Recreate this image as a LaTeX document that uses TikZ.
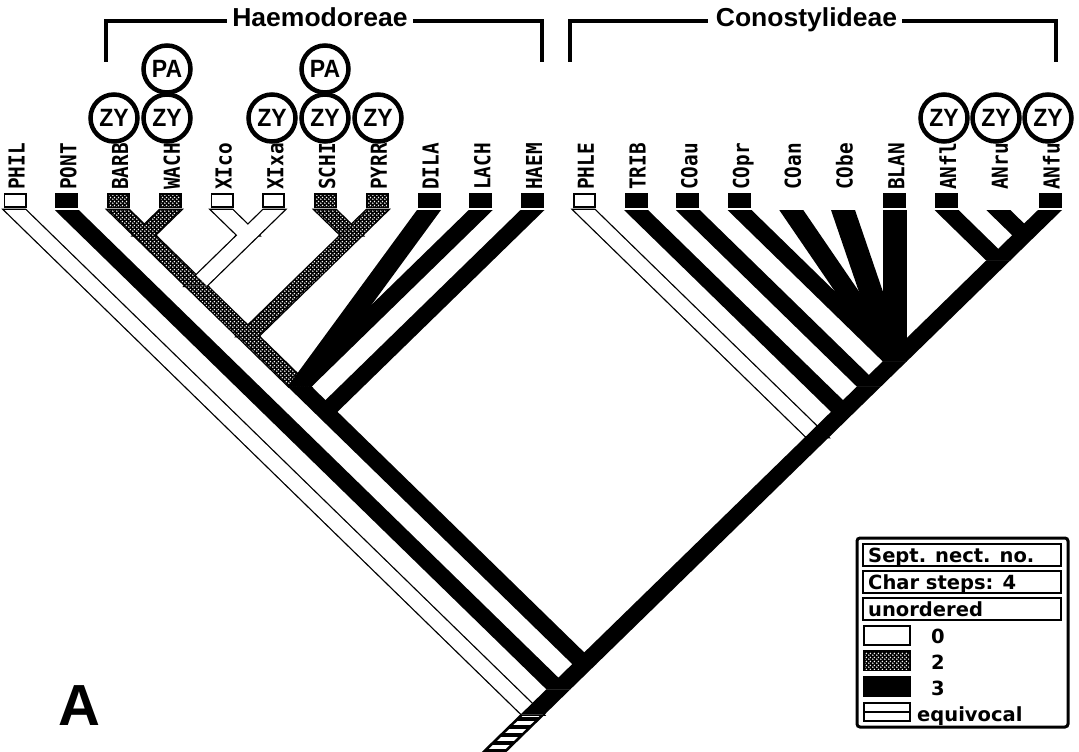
\documentclass[tikz,border=0pt]{standalone}
\usepackage{fontspec}
\setmainfont{Liberation Sans}
\newfontfamily\tipfont{DejaVu Sans Mono}
\newfontfamily\legfont{DejaVu Sans}
\usetikzlibrary{patterns,calc}
\pgfdeclarepatternformonly{stipdots}{\pgfqpoint{0pt}{0pt}}{\pgfqpoint{4pt}{4pt}}{\pgfqpoint{4pt}{4pt}}{%
  \pgfpathcircle{\pgfqpoint{1pt}{1pt}}{0.95pt}%
  \pgfpathcircle{\pgfqpoint{3pt}{3pt}}{0.95pt}%
  \pgfusepath{fill}}
\newcommand{\bandpoly}[4]{\path[#1] ($(#2)+(-#4,0)$) -- ($(#2)+(#4,0)$) -- ($(#3)+(#4,0)$) -- ($(#3)+(-#4,0)$) -- cycle;}
\newcommand{\bandB}[2]{\bandpoly{fill=black}{#1}{#2}{12}}
\newcommand{\bandO}[2]{\bandpoly{draw=black,line width=2.6pt,line join=miter}{#1}{#2}{10.5}}
\newcommand{\bandW}[2]{\bandpoly{fill=white}{#1}{#2}{10.5}}
\newcommand{\bandS}[2]{\bandpoly{fill=black}{#1}{#2}{10.5}\bandpoly{pattern=stipdots,pattern color=white}{#1}{#2}{10.5}}
\newcommand{\boxW}[1]{\draw[line width=1.8pt,fill=white] ($(#1)+(-10.6,-16)$) rectangle ($(#1)+(10.6,-3)$);}
\newcommand{\boxB}[1]{\fill[black] ($(#1)+(-11.5,-17)$) rectangle ($(#1)+(11.5,-2)$);}
\newcommand{\boxS}[1]{\fill[black] ($(#1)+(-11.5,-17)$) rectangle ($(#1)+(11.5,-2)$);
  \fill[pattern=stipdots,pattern color=white] ($(#1)+(-9.5,-15)$) rectangle ($(#1)+(9.5,-4)$);}
\tikzset{
  tiplab/.style={rotate=90, anchor=base west, inner sep=0pt, font=\tipfont\bfseries\fontsize{22}{22}\selectfont},
  charcirc/.style={circle, draw, line width=4.5pt, minimum size=47pt, inner sep=0pt, font=\bfseries\fontsize{25}{25}\selectfont},
  cladetitle/.style={anchor=base, inner sep=0pt, font=\bfseries\fontsize{26}{26}\selectfont},
  bracket/.style={line width=4pt},
  legtext/.style={anchor=base west, inner sep=0pt, font=\legfont\bfseries\fontsize{19.5}{19.5}\selectfont},
  legrow/.style={draw, line width=2pt}
}
\begin{document}
\begin{tikzpicture}[x=1pt,y=-1pt]
\useasboundingbox (0,0) rectangle (1079,752);
\fill[white] (0,0) rectangle (1079,752);

% tips
\coordinate (PHIL) at (15,210);
\coordinate (PONT) at (66.75,210);
\coordinate (BARB) at (118.5,210);
\coordinate (WACH) at (170.25,210);
\coordinate (XIco) at (222,210);
\coordinate (XIxa) at (273.75,210);
\coordinate (SCHI) at (325.5,210);
\coordinate (PYRR) at (377.25,210);
\coordinate (DILA) at (429,210);
\coordinate (LACH) at (480.75,210);
\coordinate (HAEM) at (532.5,210);
\coordinate (PHLE) at (584.25,210);
\coordinate (TRIB) at (636,210);
\coordinate (COau) at (687.75,210);
\coordinate (COpr) at (739.5,210);
\coordinate (COan) at (791.25,210);
\coordinate (CObe) at (843,210);
\coordinate (BLAN) at (894.75,210);
\coordinate (ANfl) at (946.5,210);
\coordinate (ANru) at (998.25,210);
\coordinate (ANfu) at (1050,210);
% internal nodes
\coordinate (BW) at (144.375,235.2);
\coordinate (XX) at (247.875,235.2);
\coordinate (BWX) at (196.125,285.7);
\coordinate (SP) at (351.375,235.2);
\coordinate (S) at (247.875,336.1);
\coordinate (Hp) at (299.625,386.6);
\coordinate (H) at (325.5,411.8);
\coordinate (C) at (817.125,437.1);
\coordinate (T) at (843,411.8);
\coordinate (U) at (868.875,386.6);
\coordinate (V) at (894.75,361.4);
\coordinate (W) at (998.25,260.5);
\coordinate (X) at (1024.125,235.2);
\coordinate (N2) at (584.25,664.1);
\coordinate (N1) at (558.375,689.3);
\coordinate (R) at (532.5,714.6);
\coordinate (stemB) at (494.1,752);

% root stem (equivocal)
\begin{scope}
  \clip ($(R)+(-10.5,0)$) -- ($(R)+(10.5,0)$) -- ($(stemB)+(10.5,0)$) -- ($(stemB)+(-10.5,0)$) -- cycle;
  \fill[white] (470,700) rectangle (560,760);
  \foreach \yy in {719,727,735,743,751} \draw[line width=3.5pt] (470,\yy) -- (560,\yy);
\end{scope}
\bandpoly{draw=black,line width=2.6pt}{R}{stemB}{10.5}

% outlines of white and stippled branches
\bandO{PHIL}{R}
\bandO{XIco}{XX}
\bandO{XIxa}{XX}
\bandO{XX}{BWX}
\bandO{PHLE}{C}
\bandO{BARB}{BW}
\bandO{WACH}{BW}
\bandO{BW}{BWX}
\bandO{BWX}{S}
\bandO{SCHI}{SP}
\bandO{PYRR}{SP}
\bandO{SP}{S}
\bandO{S}{Hp}
% white fills
\bandW{PHIL}{R}
\bandW{XIco}{XX}
\bandW{XIxa}{XX}
\bandW{XX}{BWX}
\bandW{PHLE}{C}
% stippled fills
\bandS{BARB}{BW}
\bandS{WACH}{BW}
\bandS{BW}{BWX}
\bandS{BWX}{S}
\bandS{SCHI}{SP}
\bandS{PYRR}{SP}
\bandS{SP}{S}
\bandS{S}{Hp}
% black branches
\bandB{PONT}{N1}
\bandB{DILA}{Hp}
\bandB{LACH}{Hp}
\bandB{Hp}{H}
\bandB{HAEM}{H}
\bandB{H}{N2}
\bandB{N2}{N1}
\bandB{N1}{R}
\bandB{C}{N2}
\bandB{TRIB}{T}
\bandB{T}{C}
\bandB{COau}{U}
\bandB{U}{T}
\bandB{COpr}{V}
\bandB{COan}{V}
\bandB{CObe}{V}
\bandB{BLAN}{V}
\bandB{V}{U}
\bandB{W}{V}
\bandB{ANfl}{W}
\bandB{X}{W}
\bandB{ANru}{X}
\bandB{ANfu}{X}

% terminal boxes
\boxW{PHIL} \boxB{PONT} \boxS{BARB} \boxS{WACH} \boxW{XIco} \boxW{XIxa}
\boxS{SCHI} \boxS{PYRR} \boxB{DILA} \boxB{LACH} \boxB{HAEM}
\boxW{PHLE} \boxB{TRIB} \boxB{COau} \boxB{COpr} \boxB{BLAN} \boxB{ANfl} \boxB{ANfu}

% tip labels
\foreach \t in {PHIL,PONT,BARB,WACH,XIco,XIxa,SCHI,PYRR,DILA,LACH,HAEM,PHLE,TRIB,COau,COpr,COan,CObe,BLAN,ANfl,ANru,ANfu}
  \node[tiplab] (lab\t) at ($(\t)+(9.5,-20)$) {\scalebox{0.88}[1]{\t}};

% character circles
\node[charcirc] (zyBARB) at (114,118) {\scalebox{0.92}[1]{ZY}};
\node[charcirc] (zyWACH) at (167,118) {\scalebox{0.92}[1]{ZY}};
\node[charcirc] (paWACH) at (167,69) {\scalebox{0.92}[1]{PA}};
\node[charcirc] (zyXIxa) at (272,118) {\scalebox{0.92}[1]{ZY}};
\node[charcirc] (zySCHI) at (325,118) {\scalebox{0.92}[1]{ZY}};
\node[charcirc] (paSCHI) at (325,69) {\scalebox{0.92}[1]{PA}};
\node[charcirc] (zyPYRR) at (378,118) {\scalebox{0.92}[1]{ZY}};
\node[charcirc] (zyANfl) at (944,118) {\scalebox{0.92}[1]{ZY}};
\node[charcirc] (zyANru) at (996,118) {\scalebox{0.92}[1]{ZY}};
\node[charcirc] (zyANfu) at (1048,118) {\scalebox{0.92}[1]{ZY}};

% clade brackets
\node[cladetitle] (haemo) at (320,27) {\scalebox{1.02}[1]{Haemodoreae}};
\node[cladetitle] (conos) at (806.5,27) {\scalebox{1.02}[1]{Conostylideae}};
\draw[bracket] (106,62) -- (106,21) -- (227,21);
\draw[bracket] (413,21) -- (542,21) -- (542,62);
\draw[bracket] (570,62) -- (570,21) -- (708,21);
\draw[bracket] (902,21) -- (1056,21) -- (1056,62);

% panel letter
\node[anchor=base west, inner sep=0pt, font=\bfseries\fontsize{58}{58}\selectfont] (panelA) at (58,725) {A};

% legend
\draw[line width=3pt, rounded corners=3pt] (857,538) rectangle (1068,727);
\draw[legrow] (863,544) rectangle (1061,566);
\draw[legrow] (863,571) rectangle (1061,593);
\draw[legrow] (863,598) rectangle (1061,620);
\node[legtext] (l1) at (868,562) {Sept. nect. no.};
\node[legtext] (l2) at (868,589) {Char steps: 4};
\node[legtext] (l3) at (868,616) {unordered};
\draw[line width=2pt, fill=white] (864,626) rectangle (910,645);
\fill[black] (863,650) rectangle (911,671);
\fill[pattern=stipdots, pattern color=white] (865,652) rectangle (909,669);
\fill[black] (863,676) rectangle (911,697);
\draw[line width=2pt] (864,703) rectangle (910,721);
\draw[line width=2pt] (864,712) -- (910,712);
\node[legtext] (l0) at (931,643) {0};
\node[legtext] (l2b) at (931,669) {2};
\node[legtext] (l3b) at (931,695) {3};
\node[legtext] (leq) at (917,721) {equivocal};
\end{tikzpicture}
\end{document}
